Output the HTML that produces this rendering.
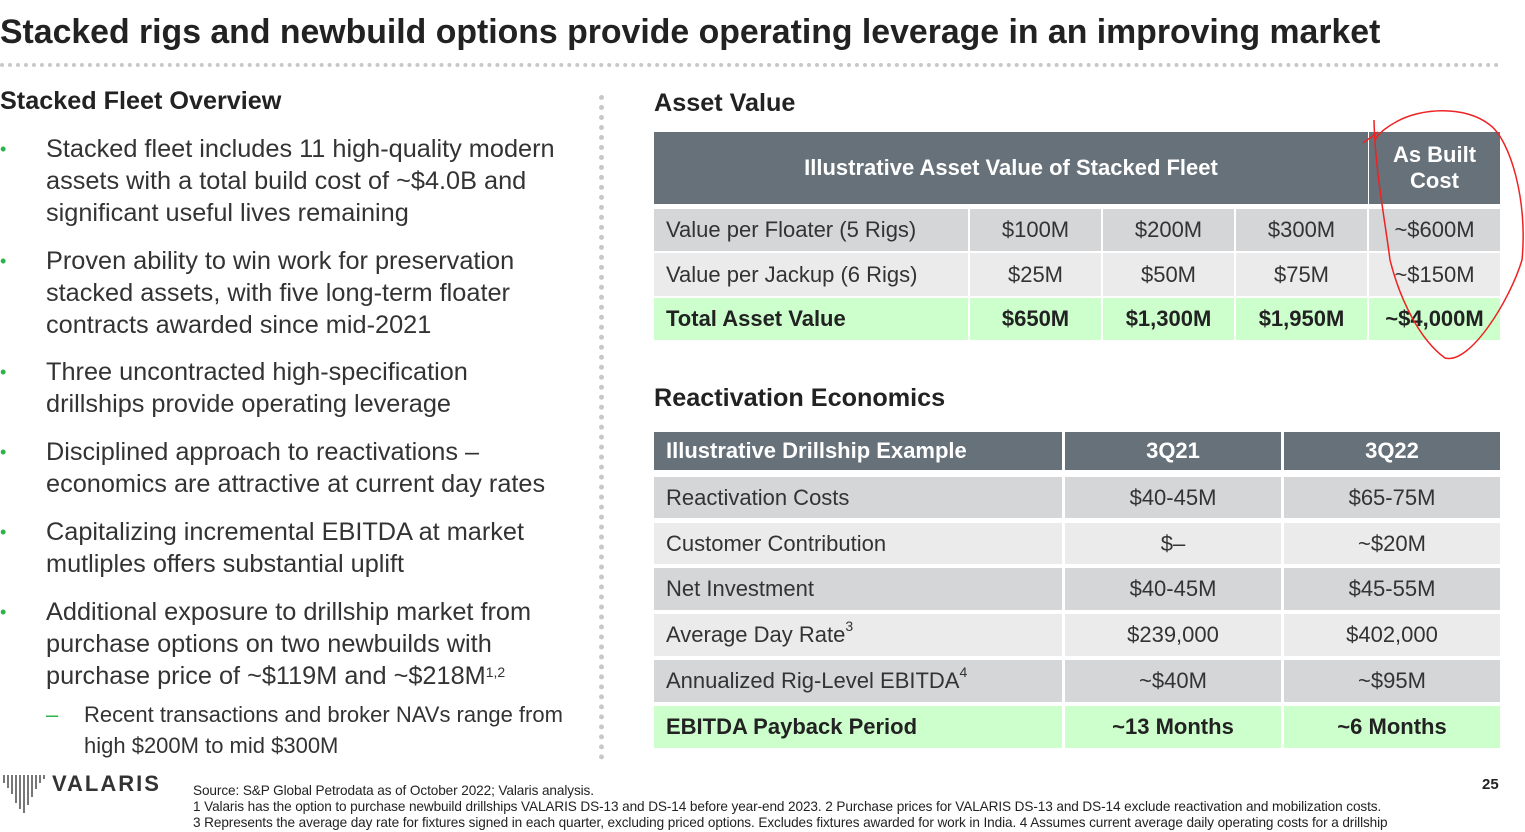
<!DOCTYPE html>
<html><head><meta charset="utf-8"><style>
body{margin:0;width:1525px;height:832px;background:#fff;position:relative;overflow:hidden;font-family:"Liberation Sans",Arial,sans-serif;color:#222}
.a{position:absolute}
.c{position:absolute;display:flex;align-items:center;justify-content:center;font-size:22px;color:#333;box-sizing:border-box;white-space:nowrap}
.l{justify-content:flex-start;padding-left:12px}
.h{background:#66717a;color:#fff;font-weight:bold}
.r1{background:#d5d6d8}.r2{background:#ebebeb}.g{background:#ccffcc;font-weight:bold;color:#222}
.b{font-size:25.3px;line-height:32px;color:#333;white-space:nowrap}
.dot{color:#2db34a;position:absolute;font-size:18px}
sup{font-size:14px;vertical-align:top;position:relative;top:-4px}
</style></head><body>
<div class="a" style="left:0;top:13px;font-size:33.8px;font-weight:bold;color:#222;white-space:nowrap">Stacked rigs and newbuild options provide operating leverage in an improving market</div>
<div class="a" style="left:0;top:63px;width:1500px;border-top:4px dotted #c8c8c8"></div>
<div class="a" style="left:599px;top:95px;height:665px;border-left:5px dotted #c8c8c8"></div>
<div class="a" style="left:0;top:87px;font-size:25.2px;font-weight:bold">Stacked Fleet Overview</div>
<div class="a" style="left:0;top:133px;width:590px">
<div class="a b" style="top:0;left:46px"><span class="dot" style="left:-46px">•</span>Stacked fleet includes 11 high-quality modern<br>assets with a total build cost of ~$4.0B and<br>significant useful lives remaining</div>
<div class="a b" style="top:112px;left:46px"><span class="dot" style="left:-46px">•</span>Proven ability to win work for preservation<br>stacked assets, with five long-term floater<br>contracts awarded since mid-2021</div>
<div class="a b" style="top:223px;left:46px"><span class="dot" style="left:-46px">•</span>Three uncontracted high-specification<br>drillships provide operating leverage</div>
<div class="a b" style="top:303px;left:46px"><span class="dot" style="left:-46px">•</span>Disciplined approach to reactivations –<br>economics are attractive at current day rates</div>
<div class="a b" style="top:383px;left:46px"><span class="dot" style="left:-46px">•</span>Capitalizing incremental EBITDA at market<br>mutliples offers substantial uplift</div>
<div class="a b" style="top:463px;left:46px"><span class="dot" style="left:-46px">•</span>Additional exposure to drillship market from<br>purchase options on two newbuilds with<br>purchase price of ~$119M and ~$218M<sup>1,2</sup></div>
<div class="a" style="top:566px;left:84px;font-size:22px;line-height:31px;color:#333;white-space:nowrap"><span style="position:absolute;left:-38px;color:#2db34a">–</span>Recent transactions and broker NAVs range from<br>high $200M to mid $300M</div>
</div>
<div class="a" style="left:654px;top:89px;font-size:25.2px;font-weight:bold">Asset Value</div>
<div>
<div class="c h" style="left:654px;top:132px;width:714px;height:72px">Illustrative Asset Value of Stacked Fleet</div>
<div class="c h" style="left:1369px;top:132px;width:131px;height:72px;text-align:center;line-height:26px;white-space:normal">As Built<br>Cost</div>
<div class="c r1 l" style="left:654px;top:209px;width:314px;height:42px">Value per Floater (5 Rigs)</div>
<div class="c r1" style="left:970px;top:209px;width:131px;height:42px">$100M</div>
<div class="c r1" style="left:1103px;top:209px;width:131px;height:42px">$200M</div>
<div class="c r1" style="left:1236px;top:209px;width:131px;height:42px">$300M</div>
<div class="c r1" style="left:1369px;top:209px;width:131px;height:42px">~$600M</div>
<div class="c r2 l" style="left:654px;top:253px;width:314px;height:43px">Value per Jackup (6 Rigs)</div>
<div class="c r2" style="left:970px;top:253px;width:131px;height:43px">$25M</div>
<div class="c r2" style="left:1103px;top:253px;width:131px;height:43px">$50M</div>
<div class="c r2" style="left:1236px;top:253px;width:131px;height:43px">$75M</div>
<div class="c r2" style="left:1369px;top:253px;width:131px;height:43px">~$150M</div>
<div class="c g l" style="left:654px;top:298px;width:314px;height:42px">Total Asset Value</div>
<div class="c g" style="left:970px;top:298px;width:131px;height:42px">$650M</div>
<div class="c g" style="left:1103px;top:298px;width:131px;height:42px">$1,300M</div>
<div class="c g" style="left:1236px;top:298px;width:131px;height:42px">$1,950M</div>
<div class="c g" style="left:1369px;top:298px;width:131px;height:42px">~$4,000M</div>
</div>
<div class="a" style="left:654px;top:384px;font-size:25.2px;font-weight:bold">Reactivation Economics</div>
<div>
<div class="c h l" style="left:654px;top:432px;width:408px;height:38px">Illustrative Drillship Example</div>
<div class="c h" style="left:1065px;top:432px;width:216px;height:38px">3Q21</div>
<div class="c h" style="left:1284px;top:432px;width:216px;height:38px">3Q22</div>
<div class="c r1 l" style="left:654px;top:477px;width:408px;height:41px">Reactivation Costs</div>
<div class="c r1" style="left:1065px;top:477px;width:216px;height:41px">$40-45M</div>
<div class="c r1" style="left:1284px;top:477px;width:216px;height:41px">$65-75M</div>
<div class="c r2 l" style="left:654px;top:523px;width:408px;height:41px">Customer Contribution</div>
<div class="c r2" style="left:1065px;top:523px;width:216px;height:41px">$–</div>
<div class="c r2" style="left:1284px;top:523px;width:216px;height:41px">~$20M</div>
<div class="c r1 l" style="left:654px;top:568px;width:408px;height:42px">Net Investment</div>
<div class="c r1" style="left:1065px;top:568px;width:216px;height:42px">$40-45M</div>
<div class="c r1" style="left:1284px;top:568px;width:216px;height:42px">$45-55M</div>
<div class="c r2 l" style="left:654px;top:614px;width:408px;height:42px"><span>Average Day Rate<sup>3</sup></span></div>
<div class="c r2" style="left:1065px;top:614px;width:216px;height:42px">$239,000</div>
<div class="c r2" style="left:1284px;top:614px;width:216px;height:42px">$402,000</div>
<div class="c r1 l" style="left:654px;top:660px;width:408px;height:42px"><span>Annualized Rig-Level EBITDA<sup>4</sup></span></div>
<div class="c r1" style="left:1065px;top:660px;width:216px;height:42px">~$40M</div>
<div class="c r1" style="left:1284px;top:660px;width:216px;height:42px">~$95M</div>
<div class="c g l" style="left:654px;top:706px;width:408px;height:42px">EBITDA Payback Period</div>
<div class="c g" style="left:1065px;top:706px;width:216px;height:42px">~13 Months</div>
<div class="c g" style="left:1284px;top:706px;width:216px;height:42px">~6 Months</div>
</div>
<svg class="a" style="left:0;top:0" width="1525" height="832"><path d="M1363 143 L1378 132 M1374 120 C1375 170 1385 220 1390 260 C1400 300 1420 340 1445 358 C1470 365 1510 300 1522 260 C1528 200 1510 140 1490 125 C1465 105 1420 108 1396 122 C1385 128 1378 134 1375 140" fill="none" stroke="#e22" stroke-width="1.5"/></svg>
<div class="a" style="left:2px;top:775px;width:44px;height:38px">
<svg width="44" height="38"><g stroke="#555" stroke-width="1.6"><line x1="2" y1="0" x2="2" y2="8"/><line x1="6" y1="0" x2="6" y2="13"/><line x1="10" y1="0" x2="10" y2="19"/><line x1="14" y1="0" x2="14" y2="28"/><line x1="18" y1="0" x2="18" y2="34"/><line x1="22" y1="0" x2="22" y2="38"/><line x1="26" y1="0" x2="26" y2="30"/><line x1="30" y1="0" x2="30" y2="22"/><line x1="34" y1="0" x2="34" y2="14"/><line x1="38" y1="0" x2="38" y2="8"/><line x1="42" y1="0" x2="42" y2="4"/></g></svg></div>
<div class="a" style="left:52px;top:771px;font-size:22px;font-weight:bold;color:#333;letter-spacing:2px">VALARIS</div>
<div class="a" style="left:193px;top:783px;font-size:13.6px;line-height:16px;color:#222;white-space:nowrap;letter-spacing:-0.1px">Source: S&amp;P Global Petrodata as of October 2022; Valaris analysis.<br>1 Valaris has the option to purchase newbuild drillships VALARIS DS-13 and DS-14 before year-end 2023. 2 Purchase prices for VALARIS DS-13 and DS-14 exclude reactivation and mobilization costs.<br>3 Represents the average day rate for fixtures signed in each quarter, excluding priced options. Excludes fixtures awarded for work in India. 4 Assumes current average daily operating costs for a drillship</div>
<div class="a" style="left:1482px;top:776px;font-size:15px;font-weight:bold">25</div>
</body></html>
